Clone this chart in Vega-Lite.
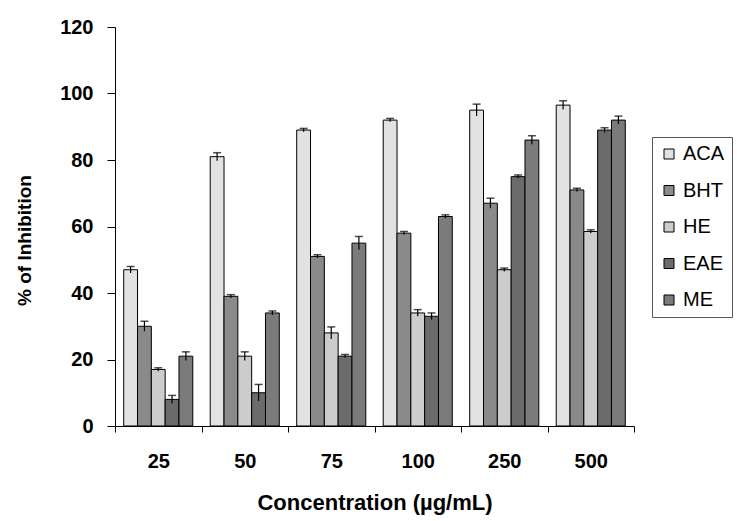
{
  "$schema": "https://vega.github.io/schema/vega-lite/v6.json",
  "width": 519,
  "height": 399,
  "autosize": "none",
  "padding": {"left": 115, "top": 27, "right": 103, "bottom": 95},
  "background": "white",
  "config": {
    "view": {"stroke": null},
    "font": "Liberation Sans",
    "axis": {"domainColor": "black", "tickColor": "black", "labelColor": "black", "titleColor": "black", "grid": false, "labelFont": "Liberation Sans", "titleFont": "Liberation Sans", "labelFontWeight": "bold", "titleFontWeight": "bold"}
  },
  "data": {
    "values": [
      {"conc": "25", "series": "ACA", "value": 47, "lo": 46, "hi": 48},
      {"conc": "25", "series": "BHT", "value": 30, "lo": 28.5, "hi": 31.5},
      {"conc": "25", "series": "HE", "value": 17, "lo": 16.5, "hi": 17.5},
      {"conc": "25", "series": "EAE", "value": 8, "lo": 6.8, "hi": 9.2},
      {"conc": "25", "series": "ME", "value": 21, "lo": 19.7, "hi": 22.3},
      {"conc": "50", "series": "ACA", "value": 81, "lo": 79.8, "hi": 82.2},
      {"conc": "50", "series": "BHT", "value": 39, "lo": 38.5, "hi": 39.5},
      {"conc": "50", "series": "HE", "value": 21, "lo": 19.7, "hi": 22.3},
      {"conc": "50", "series": "EAE", "value": 10, "lo": 7.5, "hi": 12.5},
      {"conc": "50", "series": "ME", "value": 34, "lo": 33.4, "hi": 34.6},
      {"conc": "75", "series": "ACA", "value": 89, "lo": 88.5, "hi": 89.5},
      {"conc": "75", "series": "BHT", "value": 51, "lo": 50.5, "hi": 51.5},
      {"conc": "75", "series": "HE", "value": 28, "lo": 26.2, "hi": 29.8},
      {"conc": "75", "series": "EAE", "value": 21, "lo": 20.5, "hi": 21.5},
      {"conc": "75", "series": "ME", "value": 55, "lo": 53, "hi": 57},
      {"conc": "100", "series": "ACA", "value": 92, "lo": 91.5, "hi": 92.5},
      {"conc": "100", "series": "BHT", "value": 58, "lo": 57.5, "hi": 58.5},
      {"conc": "100", "series": "HE", "value": 34, "lo": 33, "hi": 35},
      {"conc": "100", "series": "EAE", "value": 33, "lo": 32, "hi": 34},
      {"conc": "100", "series": "ME", "value": 63, "lo": 62.5, "hi": 63.5},
      {"conc": "250", "series": "ACA", "value": 95, "lo": 93.2, "hi": 96.8},
      {"conc": "250", "series": "BHT", "value": 67, "lo": 65.5, "hi": 68.5},
      {"conc": "250", "series": "HE", "value": 47, "lo": 46.5, "hi": 47.5},
      {"conc": "250", "series": "EAE", "value": 75, "lo": 74.5, "hi": 75.5},
      {"conc": "250", "series": "ME", "value": 86, "lo": 84.7, "hi": 87.3},
      {"conc": "500", "series": "ACA", "value": 96.5, "lo": 95.2, "hi": 97.8},
      {"conc": "500", "series": "BHT", "value": 71, "lo": 70.5, "hi": 71.5},
      {"conc": "500", "series": "HE", "value": 58.5, "lo": 58, "hi": 59},
      {"conc": "500", "series": "EAE", "value": 89, "lo": 88.3, "hi": 89.7},
      {"conc": "500", "series": "ME", "value": 92, "lo": 90.8, "hi": 93.2}
    ]
  },
  "encoding": {
    "x": {
      "field": "conc", "type": "nominal",
      "sort": ["25", "50", "75", "100", "250", "500"],
      "scale": {"paddingInner": 0, "paddingOuter": 0},
      "axis": {"title": "Concentration (µg/mL)", "labelAngle": 0, "tickBand": "extent", "tickSize": 6, "labelPadding": 19, "labelFontSize": 20, "titleFontSize": 22, "titlePadding": 21}
    },
    "xOffset": {
      "field": "series", "type": "nominal",
      "sort": ["ACA", "BHT", "HE", "EAE", "ME"],
      "scale": {"paddingInner": 0, "paddingOuter": 0.63}
    }
  },
  "layer": [
    {
      "mark": {"type": "bar", "stroke": "black", "strokeWidth": 1},
      "encoding": {
        "y": {
          "field": "value", "type": "quantitative",
          "scale": {"domain": [0, 120], "nice": false},
          "axis": {"title": "% of Inhibition", "values": [0, 20, 40, 60, 80, 100, 120], "tickSize": 8, "labelPadding": 14, "labelFontSize": 20, "titleFontSize": 19, "titleX": -91, "titleY": 213, "titleBaseline": "middle", "titleAlign": "center"}
        },
        "color": {
          "field": "series", "type": "nominal",
          "sort": ["ACA", "BHT", "HE", "EAE", "ME"],
          "scale": {"domain": ["ACA", "BHT", "HE", "EAE", "ME"], "range": ["#e2e2e2", "#8a8a8a", "#cccccc", "#6b6b6b", "#7b7b7b"]},
          "legend": {
            "title": null, "orient": "none", "legendX": 537, "legendY": 110,
            "padding": 7, "rowPadding": 16.5, "strokeColor": "#555555", "fillColor": "white",
            "symbolType": "square", "symbolSize": 100, "symbolStrokeColor": "black", "symbolStrokeWidth": 1, "symbolOpacity": 1,
            "labelFontSize": 20, "labelFont": "Liberation Sans", "labelColor": "black", "labelOffset": 4
          }
        }
      }
    },
    {
      "mark": {"type": "rule", "color": "black", "strokeWidth": 1.2},
      "encoding": {
        "y": {"field": "lo", "type": "quantitative"},
        "y2": {"field": "hi"}
      }
    },
    {
      "mark": {"type": "tick", "color": "black", "size": 8, "thickness": 1.5, "orient": "horizontal"},
      "encoding": {
        "y": {"field": "hi", "type": "quantitative"}
      }
    }
  ]
}
